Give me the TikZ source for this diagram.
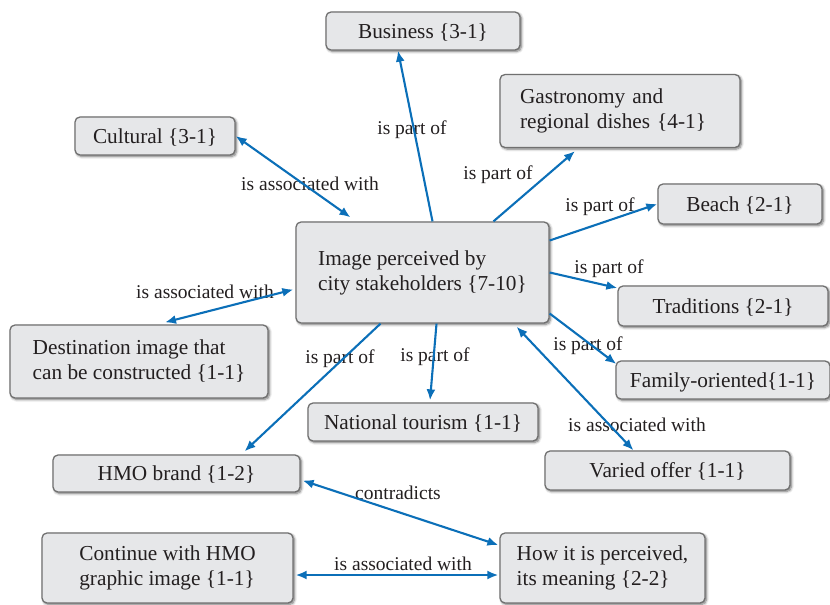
\documentclass[tikz,border=0pt]{standalone}
\usepackage{fontspec}
\setmainfont{Liberation Serif}
\usetikzlibrary{shadows.blur,arrows.meta}
\definecolor{boxfill}{HTML}{E6E7E9}
\definecolor{boxline}{HTML}{707070}
\definecolor{arrowblue}{HTML}{0B6FB8}
\definecolor{txt}{HTML}{231F20}
\tikzset{
  box/.style={draw=boxline, line width=1.3pt, fill=boxfill, rounded corners=5pt,
    inner sep=0pt, text=txt, font=\fontsize{21.3}{25}\selectfont,
    blur shadow={shadow xshift=1.5pt, shadow yshift=-1.5pt, shadow blur steps=6, shadow opacity=55, shadow blur radius=2.5pt}},
  onebox/.style={box, text height=15pt, text depth=1pt},
  lbl/.style={inner sep=0pt, text=txt, font=\fontsize{19.5}{23}\selectfont},
  conn/.style={draw=arrowblue, line width=2.1pt, -{Latex[length=11pt,width=9pt]}},
  biconn/.style={draw=arrowblue, line width=2.1pt, {Latex[length=11pt,width=9pt]}-{Latex[length=11pt,width=9pt]}}
}
\begin{document}
\begin{tikzpicture}[x=1pt,y=-1pt]
\useasboundingbox (0,0) rectangle (830,605);
% boxes
\node[onebox, minimum width=194, minimum height=38] (business) at (423,31) {Business \{3-1\}};
\node[box, minimum width=240, minimum height=73, text width=200, align=left] (gastro) at (620,111) {Gastronomy and\\regional dishes \{4-1\}};
\node[onebox, minimum width=160, minimum height=38] (cultural) at (155,136) {Cultural \{3-1\}};
\node[onebox, minimum width=164, minimum height=40] (beach) at (740,204) {Beach \{2-1\}};
\node[box, minimum width=253, minimum height=101, align=left] (center) at (422.5,272.5) {Image perceived by\\city stakeholders \{7-10\}};
\node[onebox, minimum width=210, minimum height=40] (trad) at (723,306) {Traditions \{2-1\}};
\node[box, minimum width=258, minimum height=73, align=left] (dest) at (139,361.5) {Destination image that\\can be constructed \{1-1\}};
\node[onebox, minimum width=214, minimum height=38] (family) at (723,380) {Family-oriented\{1-1\}};
\node[onebox, minimum width=230, minimum height=38] (national) at (423,422) {National tourism \{1-1\}};
\node[onebox, minimum width=245, minimum height=39] (varied) at (667.5,470.5) {Varied offer \{1-1\}};
\node[onebox, minimum width=247, minimum height=37] (hmo) at (176.5,473.5) {HMO brand \{1-2\}};
\node[box, minimum width=251, minimum height=70, align=left] (continue) at (167.5,568) {Continue with HMO\\graphic image \{1-1\}};
\node[box, minimum width=205, minimum height=70, align=left] (how) at (602.5,568) {How it is perceived,\\its meaning \{2-2\}};
% labels
\node[lbl] (l1) at (412,130) {is part of};
\node[lbl] (l2) at (310,184) {is associated with};
\node[lbl] (l3) at (498,175) {is part of};
\node[lbl] (l4) at (600,207) {is part of};
\node[lbl] (l5) at (609,269) {is part of};
\node[lbl] (l6) at (205,292) {is associated with};
\node[lbl] (l7) at (588,346) {is part of};
\node[lbl] (l8) at (435,357) {is part of};
\node[lbl] (l9) at (340,359) {is part of};
\node[lbl] (l10) at (637,425) {is associated with};
\node[lbl] (l11) at (398,493) {contradicts};
\node[lbl] (l12) at (403,564) {is associated with};
% connectors
\draw[conn] ([xshift=10pt]center.north) -- ([xshift=-25pt]business.south);
\draw[biconn] (cultural.east) -- ([xshift=-72pt,yshift=4pt]center.north);
\draw[conn] ([xshift=71pt]center.north) -- ([xshift=-45pt,yshift=-3pt]gastro.south);
\draw[conn] ([yshift=32pt]center.east) -- (beach.west);
\draw[conn] (center.east) -- ([yshift=18pt]trad.west);
\draw[biconn] ([yshift=-17pt,xshift=-2pt]center.west) -- ([xshift=26pt,yshift=2pt]dest.north);
\draw[conn] ([yshift=-41pt]center.east) -- ([yshift=16pt,xshift=1pt]family.west);
\draw[conn] ([xshift=14pt]center.south) -- ([xshift=7pt,yshift=2pt]national.north);
\draw[conn] ([xshift=-42pt]center.south) -- ([xshift=68pt,yshift=3pt]hmo.north);
\draw[biconn] ([xshift=94pt,yshift=-3pt]center.south) -- ([xshift=-34pt]varied.north);
\draw[biconn] ([yshift=-7pt,xshift=2pt]hmo.east) -- ([yshift=23pt,xshift=-1pt]how.west);
\draw[biconn] ([yshift=-7pt,xshift=2pt]continue.east) -- ([yshift=-7pt,xshift=-1pt]how.west);
\end{tikzpicture}
\end{document}
